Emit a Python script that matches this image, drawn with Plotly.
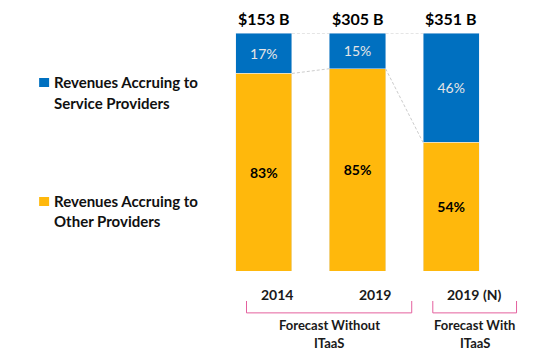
import plotly.graph_objects as go

categories = ["2014", "2019", "2019 (N)"]
service_pct = [17, 15, 46]
other_pct = [83, 85, 54]
totals = ["$153 B", "$305 B", "$351 B"]
groups = ["Forecast Without<br>ITaaS", "Forecast With<br>ITaaS"]
series_names = ["Revenues Accruing to<br>Service Providers", "Revenues Accruing to<br>Other Providers"]

BLUE = "#0070C0"
YELLOW = "#FFB80C"
FONT = "Lato"
BW = 0.6
xs = list(range(len(categories)))

fig = go.Figure()
fig.add_trace(go.Bar(
    x=xs, y=other_pct, name=series_names[1], marker_color=YELLOW, width=BW,
    text=[f"<b>{v}%</b>" for v in other_pct], textposition="inside", insidetextanchor="middle",
    textfont=dict(color="black", size=14, family=FONT), showlegend=False,
))
fig.add_trace(go.Bar(
    x=xs, y=service_pct, name=series_names[0], marker_color=BLUE, width=BW,
    text=[f"{v}%" for v in service_pct], textposition="inside", insidetextanchor="middle",
    textfont=dict(color="#E6E6E6", size=14, family=FONT), showlegend=False,
))

# connector dashed lines between bars
shapes = []
for i in range(len(xs) - 1):
    for yv0, yv1 in [(100, 100), (other_pct[i], other_pct[i + 1])]:
        shapes.append(dict(type="line", xref="x", yref="y",
                           x0=xs[i] + BW / 2, x1=xs[i + 1] - BW / 2, y0=yv0, y1=yv1,
                           line=dict(color="#CCCCCC", width=1, dash="3px,2px")))

# brackets under categories
PINK = "#E4609E"
def bracket(x0, x1, y0=-0.126, y1=-0.176):
    return dict(type="path", xref="paper", yref="paper",
                path=f"M {x0},{y0} L {x0},{y1} L {x1},{y1} L {x1},{y0}",
                line=dict(color=PINK, width=1))
shapes.append(bracket(0.105, 0.693))
shapes.append(bracket(0.768, 1.066))

annotations = []
# custom legend
legend_items = [(BLUE, series_names[0], 0.811, [0.794, 0.706]),
                (YELLOW, series_names[1], 0.311, [0.294, 0.210])]
for color, name, ytop, ylines in legend_items:
    shapes.append(dict(type="rect", xref="paper", yref="paper", x0=-0.633, x1=-0.5975,
                       y0=ytop - 0.038, y1=ytop, fillcolor=color, line=dict(width=0)))
    for line_text, yl in zip(name.split("<br>"), ylines):
        annotations.append(dict(x=-0.588, y=yl, xref="paper", yref="paper",
                                text=f"<b>{line_text}</b>", showarrow=False,
                                xanchor="left", yanchor="middle",
                                font=dict(size=15, color="#111111", family=FONT)))

for i, t in enumerate(totals):
    annotations.append(dict(x=xs[i], y=100, xref="x", yref="y", text=f"<b>{t}</b>",
                            showarrow=False, xanchor="center", yanchor="bottom", yshift=3,
                            font=dict(size=16, color="black", family=FONT)))
label_offsets = [0.14, 0.19, 0.25]
for i, c in enumerate(categories):
    annotations.append(dict(x=xs[i] + label_offsets[i], y=-0.097, xref="x", yref="paper",
                            text=f"<b>{c}</b>", showarrow=False, xanchor="center", yanchor="middle",
                            font=dict(size=14, color="#1a1a1a", family=FONT)))
group_x = [0.399, 0.917]
for gx, g in zip(group_x, groups):
    for line_text, yl in zip(g.split("<br>"), [-0.227, -0.303]):
        annotations.append(dict(x=gx, y=yl, xref="paper", yref="paper", text=f"<b>{line_text}</b>",
                                showarrow=False, xanchor="center", yanchor="middle", align="center",
                                font=dict(size=13, color="#1a1a1a", family=FONT)))

fig.update_layout(
    width=550, height=357, barmode="stack",
    margin=dict(l=216.5, r=51.5, t=33, b=86),
    plot_bgcolor="white", paper_bgcolor="white",
    xaxis=dict(range=[-0.5, 2.5], visible=False),
    yaxis=dict(range=[0, 100], visible=False),
    showlegend=False,
    shapes=shapes, annotations=annotations,
)
fig.write_html("out.html")
